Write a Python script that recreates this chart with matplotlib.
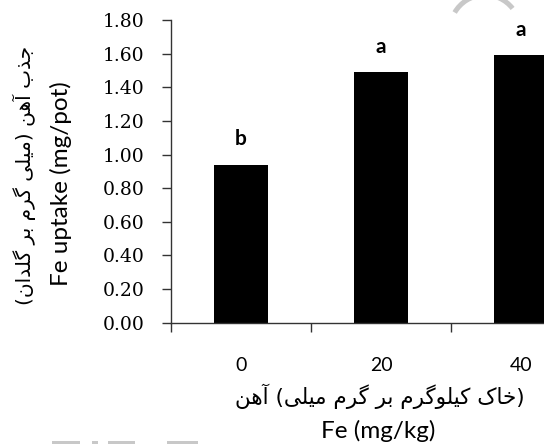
import matplotlib
matplotlib.use("Agg")
import matplotlib.pyplot as plt
from matplotlib.patches import Arc, Rectangle
from matplotlib.ticker import FormatStrFormatter
from matplotlib.transforms import IdentityTransform

# Fe uptake per pot for each Fe rate
fe_rates = ["0", "20", "40"]
fe_uptake = [0.94, 1.49, 1.59]
groups = ["b", "a", "a"]
yticks = [0.0, 0.2, 0.4, 0.6, 0.8, 1.0, 1.2, 1.4, 1.6, 1.8]

ylabel_en = "Fe uptake (mg/pot)"
ylabel_fa = "جذب آهن (میلی گرم بر گلدان)"
xlabel_en = "Fe (mg/kg)"
xlabel_fa_words = ["آهن", "میلی", "گرم", "بر", "کیلوگرم", "خاک"]

# Arabic-script presentation forms: isolated, final, initial, medial
FORMS = {
    "ا": ("\uFE8D", "\uFE8E", None, None),
    "آ": ("\uFE81", "\uFE82", None, None),
    "ب": ("\uFE8F", "\uFE90", "\uFE91", "\uFE92"),
    "ج": ("\uFE9D", "\uFE9E", "\uFE9F", "\uFEA0"),
    "خ": ("\uFEA5", "\uFEA6", "\uFEA7", "\uFEA8"),
    "د": ("\uFEA9", "\uFEAA", None, None),
    "ذ": ("\uFEAB", "\uFEAC", None, None),
    "ر": ("\uFEAD", "\uFEAE", None, None),
    "ل": ("\uFEDD", "\uFEDE", "\uFEDF", "\uFEE0"),
    "م": ("\uFEE1", "\uFEE2", "\uFEE3", "\uFEE4"),
    "ن": ("\uFEE5", "\uFEE6", "\uFEE7", "\uFEE8"),
    "ه": ("\uFEE9", "\uFEEA", "\uFEEB", "\uFEEC"),
    "و": ("\uFEED", "\uFEEE", None, None),
    "ی": ("\uFBFC", "\uFBFD", "\uFBFE", "\uFBFF"),
    "ک": ("\uFB8E", "\uFB8F", "\uFB90", "\uFB91"),
    "گ": ("\uFB92", "\uFB93", "\uFB94", "\uFB95"),
}


def shape(text):
    # pick the joined glyph for every letter (matplotlib does no shaping)
    out = []
    for i, ch in enumerate(text):
        if ch not in FORMS:
            out.append(ch)
            continue
        prev = text[i - 1] if i > 0 else ""
        nxt = text[i + 1] if i + 1 < len(text) else ""
        join_prev = prev in FORMS and FORMS[prev][2] is not None
        join_next = FORMS[ch][2] is not None and nxt in FORMS
        isol, fin, init, medi = FORMS[ch]
        if join_prev and join_next:
            out.append(medi)
        elif join_prev:
            out.append(fin)
        elif join_next:
            out.append(init)
        else:
            out.append(isol)
    return "".join(out)


def rtl(text):
    s = shape(text)[::-1]
    return s.translate(str.maketrans("()", ")("))


fa_font = ["DejaVu Sans"]
en_font = ["Lato", "DejaVu Sans"]
axis_col = "#333333"

fig = plt.figure(figsize=(5.44, 4.44), dpi=100)
ax = fig.add_axes([171 / 544, 121.3 / 444, 420 / 544, 302.7 / 444])

x = range(len(fe_rates))
ax.bar(x, fe_uptake, width=0.38, color="black")
for xi, v, g in zip(x, fe_uptake, groups):
    ax.text(xi, v + 0.15, g, ha="center", va="center",
            fontsize=15, fontweight="bold", family=en_font)

ax.set_xlim(-0.5, 2.5)
ax.set_ylim(0, 1.8)
ax.set_yticks(yticks)
ax.yaxis.set_major_formatter(FormatStrFormatter("%.2f"))
for lab in ax.get_yticklabels():
    lab.set_family("DejaVu Serif")
    lab.set_fontsize(13.5)

# tick marks on the category boundaries, labels under the bars
ax.set_xticks([-0.5, 0.5, 1.5, 2.5])
ax.set_xticklabels([])
ax.set_xticks(list(x), minor=True)
ax.set_xticklabels(fe_rates, minor=True, family=en_font, fontsize=14)
ax.tick_params(axis="x", which="minor", length=0, pad=24.5)
ax.tick_params(axis="x", which="major", direction="out", length=6.5,
               width=1, color=axis_col)
ax.tick_params(axis="y", direction="out", length=6.5, width=1, pad=12.5,
               color=axis_col)

for side in ["top", "right"]:
    ax.spines[side].set_visible(False)
for side in ["left", "bottom"]:
    ax.spines[side].set_linewidth(1)
    ax.spines[side].set_color(axis_col)

fig.text(380 / 544, 1 - 396 / 444,
         "{} ({} {} {} {} {})".format(*[rtl(w) for w in xlabel_fa_words]),
         ha="center", va="center", fontsize=15.5, family=fa_font)
fig.text(378 / 544, 1 - 431 / 444, xlabel_en, ha="center", va="center",
         fontsize=17.5, family=en_font)

fig.text(24 / 544, 1 - 175 / 444, rtl(ylabel_fa), ha="center", va="center",
         rotation=90, fontsize=14.5, family=fa_font)
fig.text(61 / 544, 1 - 184 / 444, ylabel_en, ha="center", va="center",
         rotation=90, fontsize=17.5, family=en_font)

# faint grey watermark pieces along the top and bottom edges
wm = "#c8c8c8"
fig.add_artist(Arc((485, 414), 70, 70, theta1=38, theta2=150, color=wm,
                   lw=3.6, transform=IdentityTransform()))
for x0, x1 in [(52, 80), (92, 98), (108, 135), (167, 198)]:
    fig.add_artist(Rectangle((x0, 0), x1 - x0, 3, color=wm, lw=0,
                             transform=IdentityTransform()))

fig.savefig("out.png", dpi=100)
